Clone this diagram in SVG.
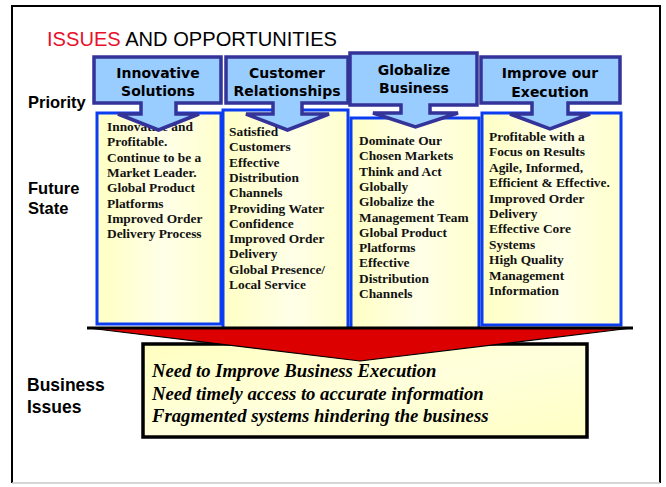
<svg xmlns="http://www.w3.org/2000/svg" width="666" height="487" viewBox="0 0 666 487">
  <defs>
    <linearGradient id="paper" x1="0" y1="0" x2="1" y2="0">
      <stop offset="0" stop-color="#ffffc4"/>
      <stop offset="0.55" stop-color="#ffffe8"/>
      <stop offset="1" stop-color="#ffffcc"/>
    </linearGradient>
    <linearGradient id="paperWide" x1="0" y1="0" x2="1" y2="1">
      <stop offset="0" stop-color="#ffffc0"/>
      <stop offset="0.5" stop-color="#ffffdc"/>
      <stop offset="1" stop-color="#ffffc4"/>
    </linearGradient>
    <style>
      .frame { fill: none; stroke: #000; stroke-width: 2; }
      .label { font-family: "Liberation Sans", Arial, sans-serif; font-weight: bold; font-size: 16.5px; fill: #000; }
      .title { font-family: "Liberation Sans", Arial, sans-serif; font-size: 20px; fill: #000; }
      .state { fill: url(#paper); stroke: #0a3cf2; stroke-width: 3; }
      .callout { fill: #99ccff; stroke: #333399; stroke-width: 3.5; stroke-linejoin: miter; }
      .ctext { font-family: "DejaVu Sans", Verdana, sans-serif; font-weight: bold; font-size: 14px; fill: #000; text-anchor: middle; }
      .btext { font-family: "Liberation Serif", "Times New Roman", serif; font-weight: bold; font-size: 13.4px; fill: #111; }
      .issues { fill: url(#paperWide); stroke: #000; stroke-width: 3.5; }
      .itext { font-family: "Liberation Serif", "Times New Roman", serif; font-weight: bold; font-style: italic; font-size: 18.7px; fill: #000; }
    </style>
  </defs>

  <rect width="666" height="487" fill="#fff"/>
  <!-- page frame -->
  <path class="frame" d="M12 483 V6 H660 V483"/>
  <line x1="12" y1="483" x2="660" y2="483" stroke="#c8c8c8" stroke-width="1.5"/>

  <text class="title" x="47" y="46" textLength="290" lengthAdjust="spacingAndGlyphs"><tspan fill="#e8112d">ISSUES</tspan> AND OPPORTUNITIES</text>

  <!-- row labels -->
  <text class="label" x="28" y="108">Priority</text>
  <text class="label" x="28" y="194">Future</text>
  <text class="label" x="28" y="214">State</text>
  <text class="label" x="27" y="391" style="font-size:17.5px">Business</text>
  <text class="label" x="27" y="413" style="font-size:17.5px">Issues</text>

  <!-- future state columns -->
  <g id="state-innovative">
    <rect class="state" x="97" y="113" width="124" height="211"/>
    <text class="btext">
      <tspan x="107" y="131">Innovative and</tspan>
      <tspan x="107" y="146.3">Profitable.</tspan>
      <tspan x="107" y="161.6">Continue to be a</tspan>
      <tspan x="107" y="176.9">Market Leader.</tspan>
      <tspan x="107" y="192.2">Global Product</tspan>
      <tspan x="107" y="207.5">Platforms</tspan>
      <tspan x="107" y="222.8">Improved Order</tspan>
      <tspan x="107" y="238.1">Delivery Process</tspan>
    </text>
  </g>
  <g id="state-customer">
    <rect class="state" x="223" y="110" width="125" height="220"/>
    <text class="btext">
      <tspan x="229" y="136">Satisfied</tspan>
      <tspan x="229" y="151.3">Customers</tspan>
      <tspan x="229" y="166.6">Effective</tspan>
      <tspan x="229" y="181.9">Distribution</tspan>
      <tspan x="229" y="197.2">Channels</tspan>
      <tspan x="229" y="212.5">Providing Water</tspan>
      <tspan x="229" y="227.8">Confidence</tspan>
      <tspan x="229" y="243.1">Improved Order</tspan>
      <tspan x="229" y="258.4">Delivery</tspan>
      <tspan x="229" y="273.7">Global Presence/</tspan>
      <tspan x="229" y="289">Local Service</tspan>
    </text>
  </g>
  <g id="state-globalize">
    <rect class="state" x="351" y="118" width="128" height="212"/>
    <text class="btext">
      <tspan x="359" y="145">Dominate Our</tspan>
      <tspan x="359" y="160.3">Chosen Markets</tspan>
      <tspan x="359" y="175.6">Think and Act</tspan>
      <tspan x="359" y="190.9">Globally</tspan>
      <tspan x="359" y="206.2">Globalize the</tspan>
      <tspan x="359" y="221.5">Management Team</tspan>
      <tspan x="359" y="236.8">Global Product</tspan>
      <tspan x="359" y="252.1">Platforms</tspan>
      <tspan x="359" y="267.4">Effective</tspan>
      <tspan x="359" y="282.7">Distribution</tspan>
      <tspan x="359" y="298">Channels</tspan>
    </text>
  </g>
  <g id="state-execution">
    <rect class="state" x="482" y="113" width="139" height="212"/>
    <text class="btext">
      <tspan x="489" y="141">Profitable with a</tspan>
      <tspan x="489" y="156.4">Focus on Results</tspan>
      <tspan x="489" y="171.8">Agile, Informed,</tspan>
      <tspan x="489" y="187.2">Efficient &amp; Effective.</tspan>
      <tspan x="489" y="202.6">Improved Order</tspan>
      <tspan x="489" y="218">Delivery</tspan>
      <tspan x="489" y="233.4">Effective Core</tspan>
      <tspan x="489" y="248.8">Systems</tspan>
      <tspan x="489" y="264.2">High Quality</tspan>
      <tspan x="489" y="279.6">Management</tspan>
      <tspan x="489" y="295">Information</tspan>
    </text>
  </g>

  <!-- priority callouts -->
  <g id="priority-innovative">
    <path class="callout" d="M94 57 H221 V103 H176 V114 H199 L158.5 130 L118 114 H141 V103 H94 Z"/>
    <text class="ctext" x="158" y="78">Innovative</text>
    <text class="ctext" x="158" y="96">Solutions</text>
  </g>
  <g id="priority-customer">
    <path class="callout" d="M226 57 H348 V103 H302 V114 H329 L287.5 130 L246 114 H273 V103 H226 Z"/>
    <text class="ctext" x="287" y="78">Customer</text>
    <text class="ctext" x="287" y="96">Relationships</text>
  </g>
  <g id="priority-globalize">
    <path class="callout" d="M350 53 H477 V105 H430 V113 H458 L415.5 127 L373 113 H401 V105 H350 Z"/>
    <text class="ctext" x="414" y="75">Globalize</text>
    <text class="ctext" x="414" y="93">Business</text>
  </g>
  <g id="priority-execution">
    <path class="callout" d="M481 57 H620 V103 H568 V114 H590 L550 129 L510 114 H532 V103 H481 Z"/>
    <text class="ctext" x="550" y="78">Improve our</text>
    <text class="ctext" x="550" y="97">Execution</text>
  </g>

  <!-- business issues -->
  <g id="business-issues">
    <rect class="issues" x="143" y="344" width="444" height="93"/>
    <text class="itext">
      <tspan x="152" y="377">Need to Improve Business Execution</tspan>
      <tspan x="152" y="400">Need timely access to accurate information</tspan>
      <tspan x="152" y="422">Fragmented systems hindering the business</tspan>
    </text>
  </g>

  <!-- converging arrow into the issues box -->
  <g id="connectors">
    <path d="M88 328 H632 L360 361 Z" fill="#dd0000" stroke="#000" stroke-width="1.2" stroke-linejoin="round"/>
    <line x1="87" y1="328" x2="633" y2="328" stroke="#000" stroke-width="3"/>
  </g>
</svg>
